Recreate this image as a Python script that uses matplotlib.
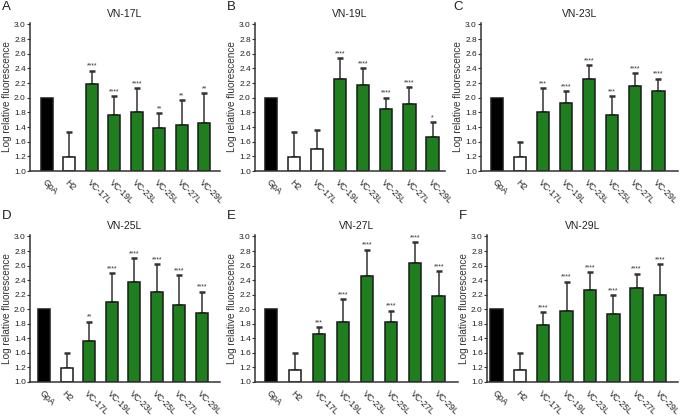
import matplotlib
import matplotlib.pyplot as plt
import numpy as np

matplotlib.use("Agg")

plt.rcParams["font.family"] = ["Liberation Sans", "DejaVu Sans"]

CATEGORIES = ["GpA", "H2", "VC-17L", "VC-19L", "VC-23L", "VC-25L", "VC-27L", "VC-29L"]
YTICKS = [1.0, 1.2, 1.4, 1.6, 1.8, 2.0, 2.2, 2.4, 2.6, 2.8, 3.0]
# the original figure swaps the 1.4 / 1.6 labels
YTICK_LABELS = ["1.0", "1.2", "1.6", "1.4", "1.8", "2.0", "2.2", "2.4", "2.6", "2.8", "3.0"]

PANELS = ["A", "B", "C", "D", "E", "F"]
TITLES = ["VN-17L", "VN-19L", "VN-23L", "VN-25L", "VN-27L", "VN-29L"]

MEANS_A = [2.0, 1.19, 2.19, 1.77, 1.81, 1.59, 1.63, 1.65]
TOPS_A = [2.0, 1.53, 2.37, 2.02, 2.13, 1.79, 1.97, 2.06]
STARS_A = ["", "", "****", "****", "****", "**", "**", "**"]

MEANS_B = [2.0, 1.19, 1.30, 2.26, 2.18, 1.84, 1.91, 1.46]
TOPS_B = [2.0, 1.53, 1.56, 2.54, 2.40, 2.00, 2.14, 1.67]
STARS_B = ["", "", "", "****", "****", "****", "****", "*"]

MEANS_C = [2.0, 1.19, 1.81, 1.93, 2.26, 1.77, 2.16, 2.09]
TOPS_C = [2.0, 1.40, 2.13, 2.09, 2.44, 2.02, 2.34, 2.26]
STARS_C = ["", "", "***", "****", "****", "***", "****", "****"]

MEANS_D = [2.0, 1.19, 1.57, 2.10, 2.37, 2.23, 2.06, 1.95]
TOPS_D = [2.0, 1.40, 1.83, 2.50, 2.70, 2.62, 2.47, 2.24]
STARS_D = ["", "", "**", "****", "****", "****", "****", "****"]

MEANS_E = [2.0, 1.17, 1.66, 1.83, 2.46, 1.82, 2.63, 2.18]
TOPS_E = [2.0, 1.40, 1.75, 2.14, 2.82, 1.98, 2.92, 2.52]
STARS_E = ["", "", "***", "****", "****", "****", "****", "****"]

MEANS_F = [2.0, 1.17, 1.79, 1.98, 2.26, 1.93, 2.29, 2.20]
TOPS_F = [2.0, 1.40, 1.96, 2.38, 2.51, 2.19, 2.49, 2.62]
STARS_F = ["", "", "****", "****", "****", "****", "****", "****"]

# white bars = not significant, green = significant, black = GpA
FILLS_A = ["k", "w", "g", "g", "g", "g", "g", "g"]
FILLS_B = ["k", "w", "w", "g", "g", "g", "g", "g"]

MEANS = [MEANS_A, MEANS_B, MEANS_C, MEANS_D, MEANS_E, MEANS_F]
TOPS = [TOPS_A, TOPS_B, TOPS_C, TOPS_D, TOPS_E, TOPS_F]
STARS = [STARS_A, STARS_B, STARS_C, STARS_D, STARS_E, STARS_F]
FILLS = [FILLS_A, FILLS_B, FILLS_A, FILLS_A, FILLS_A, FILLS_A]

COLORS = {"k": "#000000", "w": "#ffffff", "g": "#1f7f1f"}

# axes boxes in pixels: left spine x, y of the 1.0 baseline, width, height
W, H = 681, 418
BOXES = [
    (30, 171, 190, 148),
    (255, 171, 190, 148),
    (481, 171, 197, 148),
    (30, 382, 190, 147),
    (255, 382, 203, 147),
    (487, 382, 191, 147),
]
XLIMS = [
    (-0.74, 7.70),
    (-0.69, 7.54),
    (-0.69, 7.85),
    (-0.62, 7.80),
    (-0.67, 7.80),
    (-0.41, 7.77),
]

fig = plt.figure(figsize=(W / 100, H / 100), dpi=100)

for i in range(6):
    x0, y0, bw, bh = BOXES[i]
    ax = fig.add_axes([x0 / W, 1 - y0 / H, bw / W, bh / H])
    x = np.arange(len(CATEGORIES))
    means = np.array(MEANS[i])
    tops = np.array(TOPS[i])
    colors = [COLORS[c] for c in FILLS[i]]

    err = tops - means
    ax.bar(x, means - 1.0, bottom=1.0, width=0.53, color=colors,
           edgecolor="#1a1a1a", linewidth=1.1, zorder=2)
    mask = err > 0
    ax.errorbar(x[mask], means[mask], yerr=[np.zeros(mask.sum()), err[mask]],
                fmt="none", ecolor="#333333", elinewidth=1.1, capsize=2.2,
                capthick=1.8, zorder=1)

    for xi, top, s in zip(x, tops, STARS[i]):
        if s:
            ax.text(xi, top + 0.012, s, ha="center", va="bottom", fontsize=5,
                    color="#333333")

    ax.set_xlim(*XLIMS[i])
    ax.set_ylim(1.0, 3.02)
    ax.set_yticks(YTICKS)
    ax.set_yticklabels(YTICK_LABELS, fontsize=6, color="#222222")
    ax.set_xticks(x)
    ax.set_xticklabels(CATEGORIES, rotation=-45, ha="left", va="top",
                       rotation_mode="anchor", fontsize=6.3, color="#222222")
    ax.tick_params(axis="x", length=0, pad=5)
    ax.tick_params(axis="y", length=2, width=0.8, pad=1.0, color="#333333")
    for side in ["top", "right"]:
        ax.spines[side].set_visible(False)
    for side in ["left", "bottom"]:
        ax.spines[side].set_linewidth(1.1)
        ax.spines[side].set_color("#333333")

    ax.set_ylabel("Log relative fluorescence", fontsize=7.2, color="#333333")
    ax.yaxis.set_label_coords(-18 / bw, 0.5)
    ax.set_title(TITLES[i], fontsize=7.5, color="#222222", pad=4)
    fig.text((x0 - 28) / W, 1 - (y0 - 164 - (i // 3) * 2) / H, PANELS[i],
             fontsize=9.5, ha="left", va="center", color="#222222")

fig.savefig("out.png", dpi=100)
